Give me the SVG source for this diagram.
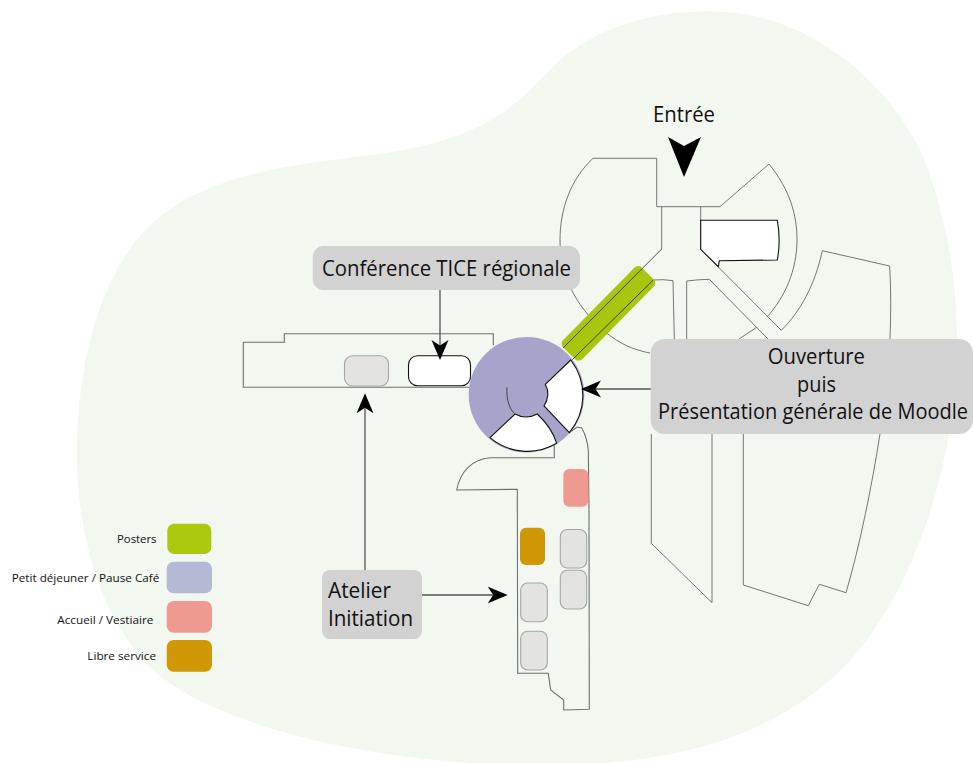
<svg xmlns="http://www.w3.org/2000/svg" width="973" height="763" viewBox="0 0 973 763">
<style>
text{font-family:"Open Sans","Noto Sans","Liberation Sans",sans-serif;fill:#111}
.wall{fill:none;stroke:#555;stroke-width:.8}
.wall2{fill:none;stroke:#6e716b;stroke-width:1.1}
.wedge{fill:#fff;stroke:#111;stroke-width:1.1}
.room{fill:#e3e4df;stroke:#a5a6a1;stroke-width:1.1}
.label{fill:#d2d2d2}
.big{font-size:21px}
.leg{font-size:11.5px}
.conn{fill:none;stroke:#555;stroke-width:1.3;marker-end:url(#head)}
</style>
<defs>
<marker id="head" markerUnits="userSpaceOnUse" viewBox="0 -9 20 18" markerWidth="20" markerHeight="18" refX="5.5" refY="0" orient="auto"><path d="M0,-8.5 L20,0 L0,8.5 L5.5,0 Z" fill="#000"/></marker>
</defs>
<rect width="973" height="763" fill="#fff"/>
<path id="site" fill="#f2f7ef" d="M545,75 C590,25 660,8 725,12 C800,16 880,70 920,150 C948,215 958,290 957,350 C955,450 925,560 867,640 C815,710 720,763 560,765 C420,768 250,740 165,680 C100,630 76,530 77,450 C78,340 110,265 150,225 C210,170 300,165 370,155 C450,145 500,125 545,75 Z"/>

<g id="building-north">
<path class="wall" d="M593,158.3 H656.7 V206.7 H720 L769,164 C790,190 797,215 797,240 C797,270 785,297 767,317"/>
<path class="wall" d="M593,158.3 C570,180 560,210 560,240 C560,275 575,305 603,330 C620,345 635,350 650,353"/>
<path class="wall" d="M756.7,327.3 L739,339"/>
<path class="wall" d="M661.7,206.7 V249"/>
<path class="wall" d="M700.7,206.7 V249.3 L781.3,330.3 C800,312 815,285 822.3,250.7 L889.7,266 C891,290 891,315 890,339"/>
<path class="wall" d="M653.3,280 Q663,279 673,280.7 L674.3,339"/>
<path class="wall" d="M686.7,339 V281 Q698,279.5 709.3,279.3 L768,339"/>
<path class="wall" d="M880,434 C872,485 860,545 846,592.7 L819.3,584.3 L808.3,605.7 L743.3,585 V434"/>
<path class="wall" d="M712,434 V602.7 L651.3,543.3 V434"/>
</g>

<g id="posters">
<rect x="-56" y="-13.5" width="112" height="27" rx="5" fill="#a9c60f" transform="translate(608.4 313.4) rotate(-45.4)"/>
<path d="M661.7,249 L563,348 M653.3,280 L572,360" fill="none" stroke="#222" stroke-width=".8"/>
</g>

<g id="salle-conference-nord">
<path class="wedge" d="M700.7,220.3 H777.3 Q781,240 777.3,260 L719.3,260.7 L718.3,266.7 L700.7,249.3 Z"/>
</g>

<g id="building-west">
<path class="wall2" d="M493.3,345 V333.7 H284.3 V342.3 H243.3 V387.3 H507"/>
<rect class="room" x="344.5" y="355.7" width="44" height="30.3" rx="8"/>
<rect x="408.5" y="355.7" width="62" height="30" rx="9" fill="#fff" stroke="#111" stroke-width="1.1"/>
</g>

<g id="building-south">
<path class="wall2" d="M554.3,443 V457.7 H490 C472,459 460,472 456.7,490 L517.3,489.3 L517.7,673.3 H548.3 L550.7,690 L563.7,700 V710 L589.3,709.3 L589,510 L588.3,450 Q587,437 581.7,428 Q579,427 576.7,427.3 L569.3,432.7"/>
<rect x="563.3" y="469" width="25" height="37.7" rx="6" fill="#ee9a91"/>
<rect x="520" y="527.7" width="25" height="37.3" rx="6" fill="#d09707"/>
<rect class="room" x="560.3" y="529.5" width="26.4" height="38.5" rx="7"/>
<rect class="room" x="560.3" y="570.3" width="26.4" height="38.7" rx="7"/>
<rect class="room" x="520.7" y="583" width="26.6" height="38.7" rx="7"/>
<rect class="room" x="520.7" y="631.3" width="26.6" height="38.7" rx="7"/>
</g>

<g id="rotonde">
<circle cx="526.5" cy="394.7" r="57.8" fill="#a6a4ca"/>
<path class="wedge" d="M570.7,360 L545.3,384.3 Q551,395 544,406 L569.3,432.7 A57.8,57.8 0 0 0 570.7,360 Z"/>
<path class="wedge" d="M490,437.7 L515,414 Q526,420 537.3,414 Q552,428 556.7,443.3 A57.8,57.8 0 0 1 490,437.7 Z"/>
<path d="M507,387.3 C506,400 510,410 515,414" fill="none" stroke="#444" stroke-width="1"/>
</g>

<g id="connectors">
<path class="conn" d="M440,290 V345.5"/>
<path class="conn" d="M651,389 H595.5"/>
<path class="conn" d="M365,570 V407.8"/>
<path class="conn" d="M422,595 L493.2,595"/>
</g>

<g id="entree">
<text class="big" x="653" y="122" textLength="62" lengthAdjust="spacingAndGlyphs">Entrée</text>
<path d="M668,137 L684,146 L701,137 L684,177 Z" fill="#000"/>
</g>

<g id="conference-tice">
<rect class="label" x="312.7" y="246" width="267.3" height="44" rx="11"/>
<text class="big" x="322" y="276" textLength="249" lengthAdjust="spacingAndGlyphs">Conférence TICE régionale</text>
</g>

<g id="ouverture">
<rect class="label" x="650.7" y="339" width="322.3" height="95" rx="14"/>
<text class="big" x="767.7" y="364" textLength="97.3" lengthAdjust="spacingAndGlyphs">Ouverture</text>
<text class="big" x="797" y="392" textLength="39" lengthAdjust="spacingAndGlyphs">puis</text>
<text class="big" x="658" y="419" textLength="310" lengthAdjust="spacingAndGlyphs">Présentation générale de Moodle</text>
</g>

<g id="atelier">
<rect class="label" x="322" y="570" width="100" height="69" rx="8"/>
<text class="big" x="328" y="598" textLength="63" lengthAdjust="spacingAndGlyphs">Atelier</text>
<text class="big" x="328" y="626" textLength="85" lengthAdjust="spacingAndGlyphs">Initiation</text>
</g>

<g id="legend-posters">
<rect x="167.3" y="523.7" width="44" height="30.3" rx="7" fill="#acc90f"/>
<text class="leg" x="117" y="542.5" textLength="39.5" lengthAdjust="spacingAndGlyphs">Posters</text>
</g>
<g id="legend-pause">
<rect x="166.7" y="561.7" width="45.3" height="31.6" rx="7" fill="#b4b9d4"/>
<text class="leg" x="11.7" y="581.5" textLength="147.6" lengthAdjust="spacingAndGlyphs">Petit déjeuner / Pause Café</text>
</g>
<g id="legend-accueil">
<rect x="166.7" y="601" width="45.3" height="31.7" rx="7" fill="#ee9a91"/>
<text class="leg" x="57.3" y="623.5" textLength="96" lengthAdjust="spacingAndGlyphs">Accueil / Vestiaire</text>
</g>
<g id="legend-libre">
<rect x="166.7" y="640" width="45.3" height="31.7" rx="7" fill="#d09707"/>
<text class="leg" x="87.3" y="660" textLength="68.7" lengthAdjust="spacingAndGlyphs">Libre service</text>
</g>
</svg>
